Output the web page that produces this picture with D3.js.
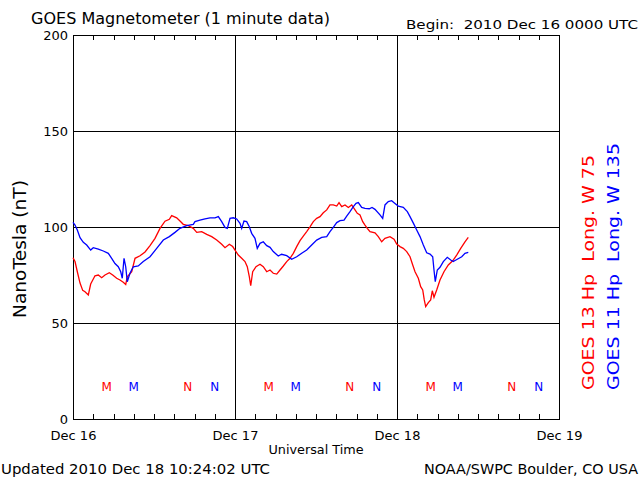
<!DOCTYPE html>
<html><head><meta charset="utf-8">
<script src="https://cdn.jsdelivr.net/npm/d3@7"></script>
<style>
html,body{margin:0;padding:0;background:#fff;}
svg text{font-family:"DejaVu Sans",sans-serif;white-space:pre;}
</style></head>
<body>
<svg id="chart" width="640" height="480"></svg>
<script>
// ---- data (hours since 2010 Dec 16 00:00 UT, nT) ----
const dayLabels = ["Dec 16", "Dec 17", "Dec 18", "Dec 19"];
const yTicks = [0, 50, 100, 150, 200];

const g13Hours = [0,0.3,0.64,1.04,1.44,1.78,2.27,2.62,3.26,3.75,4.25,4.74,5.38,5.88,6.47,6.96,7.45,7.81,8.04,8.7,9.19,9.93,10.67,11.41,12.15,12.89,13.63,14.27,14.62,15.36,15.85,16.34,17.08,17.82,18.33,19.07,19.81,20.55,21.29,22.03,22.52,23.16,23.66,24.0,24.49,24.99,25.48,25.82,26.12,26.33,26.62,27.11,27.7,28.19,28.7,29.19,29.67,30.18,30.67,31.16,31.66,32.15,32.64,33.14,33.63,34.12,34.62,35.11,35.6,36.1,36.59,37.08,37.59,38.07,38.56,39.07,39.41,39.81,40.3,40.79,41.29,41.78,42.12,42.52,42.92,43.26,43.6,44.0,44.74,45.23,45.73,46.22,46.96,47.56,47.96,48.44,48.93,49.44,49.93,50.33,50.67,51.16,51.51,51.81,52.04,52.25,52.64,52.99,53.23,53.48,53.88,54.37,54.96,55.6,56.25,56.84,57.44,58.07,58.56];
const g13Values = [84,82,76.7,70.8,67,66.3,64.6,70.3,74.6,75,73.6,75,76.2,75,73.3,72.4,71.2,70.1,74,76.7,83.7,85,87,90.3,94.1,99.3,103,104,105.9,104.8,103.1,101.4,100.7,99.3,97.2,97.6,96.2,95,93.2,91,89.2,91,89.8,88,85.4,83.7,82,79.3,74.1,69.4,76.7,79.3,80.6,79.3,76.7,77.6,75.9,75.5,77.6,79.7,82,83.7,86.3,89.8,92.9,95.3,97.6,100.1,102.8,104.5,105.4,107.4,108.9,111.5,111.5,110.9,112.7,110.6,111.5,110.2,111.5,108.9,107.1,106.3,102.8,101,99.3,97.6,97,95,92.3,94.1,95,93.6,91.1,89.8,88.9,87.2,84.5,80.2,76.7,73.3,68.9,67.2,62,58.5,60.6,62,66.8,63.4,67.2,72.4,76.7,80.2,82.4,85.4,88.9,92.3,94.6];

const g11Hours = [0,0.3,0.64,1.04,1.53,2.03,2.62,3.0,3.75,4.49,5.23,5.73,6.22,6.71,7.07,7.3,7.56,7.81,8.04,8.44,8.93,9.67,10.41,11.41,12.4,13.38,14.27,15.11,15.85,16.84,17.82,18.07,18.81,19.56,20.3,21.04,21.53,22.03,22.52,22.86,23.26,23.75,24.25,24.74,24.99,25.33,25.73,26.12,26.47,26.96,27.3,27.7,28.19,28.7,29.19,29.67,30.41,30.9,31.66,32.4,33.14,33.88,34.62,35.36,36.1,36.84,37.59,38.07,38.56,39.07,39.56,40.15,40.55,41.04,41.53,41.93,42.27,42.77,43.26,43.9,44.3,44.74,45.48,45.88,46.22,46.71,47.21,47.7,48.19,48.93,49.53,49.93,50.44,50.92,51.41,51.9,52.4,52.89,53.29,53.48,53.67,53.97,54.37,54.86,55.45,55.96,56.33,56.93,57.59,58.07,58.56];
const g11Values = [102.4,101,98.4,94.4,92,90.6,88,89.2,88.5,87.5,86.3,83.7,81,79.3,76.7,73.3,83.7,79.3,71.5,75.9,79.3,79.7,82,84.5,88.9,93.2,95,97.2,99.3,100.7,101.4,102.8,103.6,104.2,104.8,104.8,105.4,102.8,99.8,99.3,104.5,104.8,104.2,101.9,99.3,103.1,102.8,100.1,96.7,94.1,88.9,91.5,92.3,90.3,89.4,87.2,84.9,85.8,85.1,83.2,84.5,86.3,88,90.6,93.2,94.6,95,97.6,99.8,102.3,103.3,103.6,105.7,108,110.6,112.3,112.7,110.2,109.7,109.5,110.2,109.2,106.3,104.5,111.5,113.2,113.7,112.3,110.9,110.2,108,105.4,101.9,98.4,95,90.6,86.6,85.9,84.5,77.6,71.5,77.6,79,82,84.2,82.8,82,83.2,84.5,86.3,86.8];

// local midnight (M) / noon (N) marker times, hours
const g13Markers = [{t:5,l:"M"},{t:17,l:"N"},{t:29,l:"M"},{t:41,l:"N"},{t:53,l:"M"},{t:65,l:"N"}];
const g11Markers = [{t:9,l:"M"},{t:21,l:"N"},{t:33,l:"M"},{t:45,l:"N"},{t:57,l:"M"},{t:69,l:"N"}];

const titleText = "GOES Magnetometer (1 minute data)";
const beginText = "Begin:  2010 Dec 16 0000 UTC";
const updatedText = "Updated 2010 Dec 18 10:24:02 UTC";
const creditText = "NOAA/SWPC Boulder, CO USA";
const xTitle = "Universal Time";
const yTitle = "NanoTesla (nT)";
const g13Label = "GOES 13 Hp  Long. W 75";
const g11Label = "GOES 11 Hp  Long. W 135";

// ---- layout ----
const svg = d3.select("#chart");
const L = 73, R = 559, T = 35, B = 419;
const x = d3.scaleLinear().domain([0, 72]).range([L, R]);
const y = d3.scaleLinear().domain([0, 200]).range([B, T]);
const RED = "#ff0000", BLUE = "#0000ff";

function txt(s, px, py, opts) {
  const t = svg.append("text").attr("x", px).attr("y", py).text(s)
    .attr("font-size", opts.size).attr("fill", opts.fill || "#000")
    .attr("text-anchor", opts.anchor || "start");
  if (opts.len) t.attr("textLength", opts.len).attr("lengthAdjust", "spacingAndGlyphs");
  if (opts.rot) t.attr("transform", `rotate(-90,${px},${py})`);
  if (opts.dy) t.attr("dy", opts.dy);
  return t;
}

// grid lines
const grid = svg.append("g").attr("stroke", "#000").attr("stroke-width", 1).attr("shape-rendering", "crispEdges");
[50, 100, 150].forEach(v => grid.append("line").attr("x1", L).attr("x2", R).attr("y1", y(v)).attr("y2", y(v)));
[24, 48].forEach(h => grid.append("line").attr("x1", x(h)).attr("x2", x(h)).attr("y1", T).attr("y2", B));

// axes via d3
const minorTicks = d3.range(3, 72, 3).filter(h => h % 24 !== 0);
svg.append("g").attr("transform", `translate(0,${B})`)
  .call(d3.axisTop(x).tickValues(minorTicks).tickSize(5).tickFormat(""))
  .call(g => g.select(".domain").remove())
  .attr("shape-rendering", "crispEdges");
svg.append("g").attr("transform", `translate(0,${T})`)
  .call(d3.axisBottom(x).tickValues(minorTicks).tickSize(5).tickFormat(""))
  .call(g => g.select(".domain").remove())
  .attr("shape-rendering", "crispEdges");
const xLab = svg.append("g").attr("transform", `translate(0,${B})`)
  .call(d3.axisBottom(x).tickValues([0, 24, 48, 72]).tickSize(0).tickPadding(12).tickFormat((d, i) => dayLabels[i]));
xLab.select(".domain").remove();
xLab.selectAll("text").attr("font-size", 13).attr("font-family", "DejaVu Sans").attr("fill", "#000");
const yLab = svg.append("g").attr("transform", `translate(${L},0)`)
  .call(d3.axisLeft(y).tickValues(yTicks).tickSize(0).tickPadding(5));
yLab.select(".domain").remove();
yLab.selectAll("text").attr("font-size", 13).attr("font-family", "DejaVu Sans").attr("fill", "#000");

// frame
svg.append("rect").attr("x", L).attr("y", T).attr("width", R - L).attr("height", B - T)
  .attr("fill", "none").attr("stroke", "#000").attr("stroke-width", 1).attr("shape-rendering", "crispEdges");

// series
const line = d3.line().x(d => x(d[0])).y(d => y(d[1]));
svg.append("path").datum(d3.zip(g13Hours, g13Values)).attr("d", line)
  .attr("fill", "none").attr("stroke", RED).attr("stroke-width", 1.3);
svg.append("path").datum(d3.zip(g11Hours, g11Values)).attr("d", line)
  .attr("fill", "none").attr("stroke", BLUE).attr("stroke-width", 1.3);

// M / N markers
const mY = y(17);
g13Markers.forEach(m => txt(m.l, x(m.t), mY, {size: 12, fill: RED, anchor: "middle", dy: "0.35em"}));
g11Markers.forEach(m => txt(m.l, x(m.t), mY, {size: 12, fill: BLUE, anchor: "middle", dy: "0.35em"}));

// texts
txt(titleText, 31, 24, {size: 16, len: 299});
txt(beginText, 406, 29, {size: 13, len: 232});
txt(xTitle, 316, 454, {size: 13, anchor: "middle", len: 95});
txt(updatedText, 1, 474, {size: 14, len: 269});
txt(creditText, 424, 474, {size: 14, len: 214});
txt(yTitle, 26, 249, {size: 17, anchor: "middle", rot: true, len: 138});
txt(g13Label, 594, 390, {size: 15, fill: RED, rot: true, len: 235});
txt(g11Label, 619, 390, {size: 15, fill: BLUE, rot: true, len: 247});
</script>
</body></html>
